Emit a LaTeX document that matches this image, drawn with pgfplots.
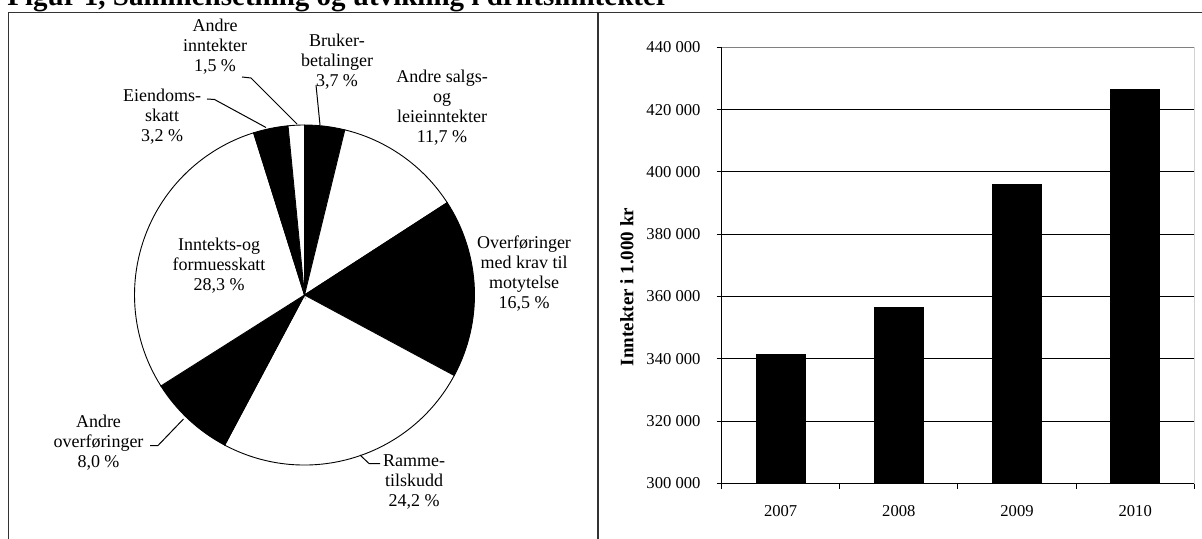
\documentclass[border=0pt]{standalone}
\usepackage{fontspec}
\setmainfont{Liberation Serif}
\usepackage{pgfplots}
\usepackage{pgfplotstable}
\pgfplotsset{compat=1.18}

% Share of operating income, clockwise from twelve o'clock (per cent)
\pgfplotstableread{
value shade
3.7  black
11.7 white
16.5 black
24.2 white
8.0  black
28.3 white
3.2  black
1.5  white
}\piedata

% Operating income, 1000 NOK
\pgfplotstableread{
x year value
0 2007 341500
1 2008 356500
2 2009 396000
3 2010 426500
}\bardata

% Draw the pie wedges from \piedata inside the current axis (unit radius = 85pt)
\newcommand\drawpie{%
  \pgfplotstablegetrowsof{\piedata}%
  \pgfmathtruncatemacro\pielast{\pgfplotsretval-1}%
  \def\pietotal{0}%
  \pgfplotsforeachungrouped \i in {0,...,\pielast}{%
    \pgfplotstablegetelem{\i}{value}\of\piedata
    \pgfmathsetmacro\pietotal{\pietotal+\pgfplotsretval}%
  }%
  \def\piecum{0}%
  \pgfplotsforeachungrouped \i in {0,...,\pielast}{%
    \pgfplotstablegetelem{\i}{value}\of\piedata
    \let\pieval\pgfplotsretval
    \pgfplotstablegetelem{\i}{shade}\of\piedata
    \let\pieshade\pgfplotsretval
    \pgfmathsetmacro\piestart{90-(\piecum/\pietotal)*360}%
    \pgfmathsetmacro\piecum{\piecum+\pieval}%
    \pgfmathsetmacro\pieend{90-(\piecum/\pietotal)*360}%
    \edef\piewedge{\noexpand\filldraw[fill=\pieshade, draw=black, line width=0.45pt]
      (axis cs:0,0) -- (axis cs:{cos(\piestart)},{sin(\piestart)})
      arc[start angle=\piestart, end angle=\pieend, radius=85pt] -- cycle;}%
    \piewedge
  }%
}

\begin{document}
\begin{tikzpicture}
\path[use as bounding box] (0pt,0pt) rectangle (601pt,-269.5pt);
\clip (0pt,0pt) rectangle (601pt,-269.5pt);
\fill[white] (0pt,0pt) rectangle (601pt,-269.5pt);

% heading and frames
\begin{scope}[x=0.5pt,y=-0.5pt]
  \node[anchor=base west, inner sep=0pt, font=\bfseries\fontsize{14.5}{17}\selectfont]
    at (7,6) {Figur 1, Sammensetning og utvikling i driftsinntekter};
  \draw[black!80, line width=0.75pt] (8.5,600) -- (8.5,12.5) -- (1215,12.5);
  \draw[black!80, line width=0.75pt] (598,12.5) -- (598,600);
\end{scope}

% composition pie
\begin{axis}[at={(152.25pt,-147.5pt)}, anchor=center, scale only axis,
  width=170pt, height=170pt, xmin=-1, xmax=1, ymin=-1, ymax=1,
  hide axis, clip=false]
  \drawpie
\end{axis}

% pie labels and leader lines
\begin{scope}[x=0.5pt,y=-0.5pt, every node/.style={align=center, inner sep=0pt,
    font=\fontsize{9}{10}\selectfont}]
  \node at (215,47)    {Andre\\inntekter\\1,5 \%};
  \node at (337,62)    {Bruker-\\betalinger\\3,7 \%};
  \node at (442,108)   {Andre salgs-\\og\\leieinntekter\\11,7 \%};
  \node at (162,117)   {Eiendoms-\\skatt\\3,2 \%};
  \node at (219,266)   {Inntekts-og\\formuesskatt\\28,3 \%};
  \node at (524,274)   {Overføringer\\med krav til\\motytelse\\16,5 \%};
  \node at (98.5,443)  {Andre\\overføringer\\8,0 \%};
  \node at (414,482)   {Ramme-\\tilskudd\\24,2 \%};
  \draw[line width=0.5pt] (242,77) -- (251,78) -- (297,124);
  \draw[line width=0.5pt] (316,85) -- (320,125);
  \draw[line width=0.5pt] (207,99) -- (214.5,99.5) -- (266,127.5);
  \draw[line width=0.5pt] (150,445.5) -- (158,445.5) -- (183.5,419);
  \draw[line width=0.5pt] (360,455) -- (369,463.5) -- (380,463.5);
\end{scope}

% development of income
\begin{axis}[at={(360.75pt,-241.75pt)}, anchor=south west, scale only axis,
  width=236.4pt, height=218.1pt,
  xmin=-0.5, xmax=3.5, ymin=300000, ymax=440000,
  axis x line*=bottom, axis y line*=left,
  axis line style={black, line width=0.6pt},
  ybar, bar width=0.414,
  xtick={0,1,2,3}, xticklabels={2007,2008,2009,2010},
  minor xtick={-0.5,0.5,1.5,2.5,3.5},
  major x tick style={draw=none},
  tick align=outside, major tick length=2.5pt, minor tick length=2.5pt,
  tick style={black, line width=0.5pt},
  ytick={300000,320000,340000,360000,380000,400000,420000,440000},
  yticklabels={300 000,320 000,340 000,360 000,380 000,400 000,420 000,440 000},
  ymajorgrids, grid style={black, line width=0.5pt},
  scaled y ticks=false,
  tick label style={font=\fontsize{8.3}{10}\selectfont},
  yticklabel shift=4.5pt,
  xticklabel shift=5pt,
]
  \addplot[fill=black, draw=black] table[x=x, y=value] {\bardata};
  \draw[gray, line width=0.5pt] (rel axis cs:0,1) -- (rel axis cs:1,1) -- (rel axis cs:1,0);
\end{axis}

\begin{scope}[x=0.5pt,y=-0.5pt]
  \node[rotate=90, inner sep=0pt, font=\bfseries\fontsize{9.5}{11}\selectfont]
    at (627,287) {Inntekter i 1.000 kr};
\end{scope}
\end{tikzpicture}
\end{document}
